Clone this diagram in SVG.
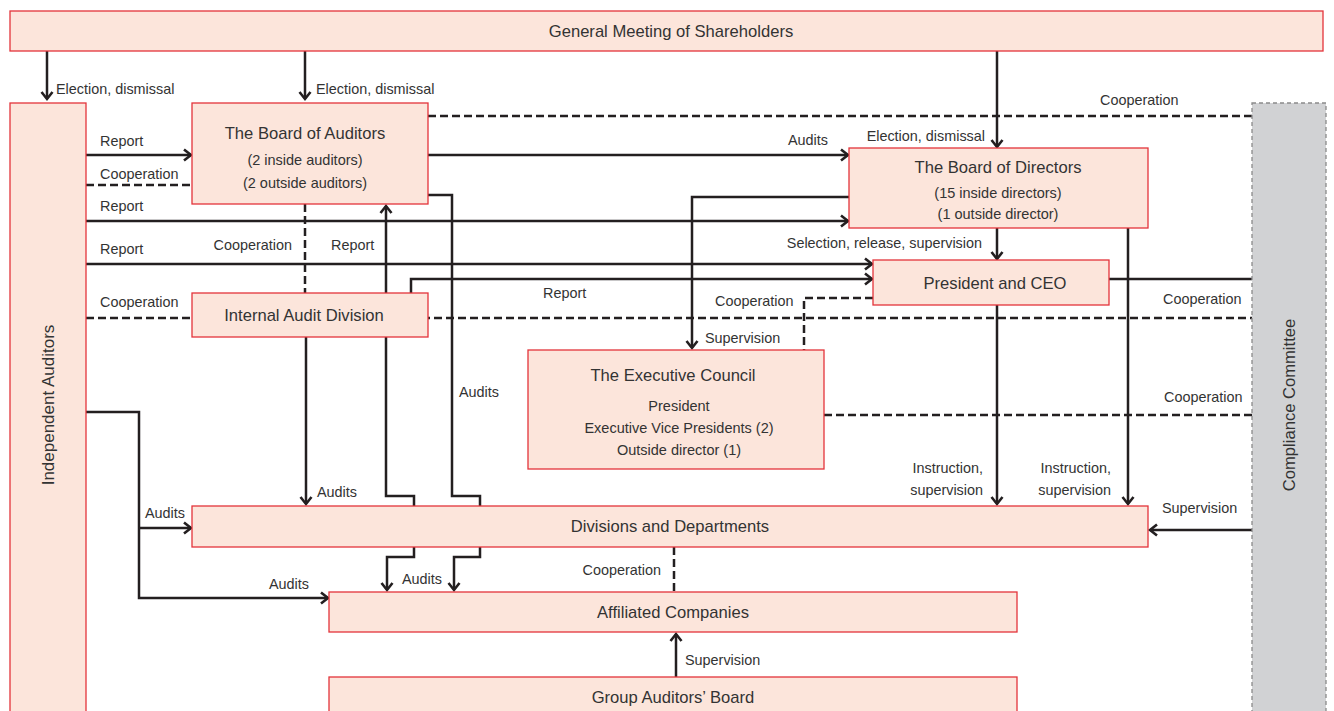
<svg xmlns="http://www.w3.org/2000/svg" width="1334" height="711" viewBox="0 0 1334 711">
<style>
.box{fill:#fce5db;stroke:#e3343b;stroke-width:1.3}
.cc{fill:#d1d2d4;stroke:#8a8a8a;stroke-width:1.3;stroke-dasharray:4 3}
.ln{fill:none;stroke:#231f20;stroke-width:2.5}
.ds{fill:none;stroke:#231f20;stroke-width:2.5;stroke-dasharray:8 4}
text{font-family:'Liberation Sans',Arial,sans-serif;fill:#333}
.ti{font-size:16.6px;text-anchor:middle}
.su{font-size:14.5px;text-anchor:middle}
.lb{font-size:14.4px}
.le{font-size:14.4px;text-anchor:end}
</style>
<defs>
<marker id="a" markerUnits="userSpaceOnUse" markerWidth="14" markerHeight="14" viewBox="0 0 14 14" refX="11" refY="7" orient="auto-start-reverse">
<path d="M4,1.5 L11,7 L4,12.5" fill="none" stroke="#231f20" stroke-width="2.6"/>
</marker>
</defs>

<g id="connectors">
<path class="ln" d="M47,51 V99" marker-end="url(#a)"/>
<path class="ln" d="M305,51 V99" marker-end="url(#a)"/>
<path class="ln" d="M997,51 V147" marker-end="url(#a)"/>
<path class="ln" d="M86,155 H191" marker-end="url(#a)"/>
<path class="ds" d="M86,185 H192"/>
<path class="ln" d="M86,221 H848" marker-end="url(#a)"/>
<path class="ln" d="M86,264 H872" marker-end="url(#a)"/>
<path class="ds" d="M86,318 H1252"/>
<path class="ln" d="M86,412 H139 V598 H328" marker-end="url(#a)"/>
<path class="ln" d="M139,528 H191" marker-end="url(#a)"/>
<path class="ds" d="M428,116 H1252"/>
<path class="ln" d="M428,155 H848" marker-end="url(#a)"/>
<path class="ln" d="M428,195 H452 V496 H480 V557 H454 V590" marker-end="url(#a)"/>
<path class="ln" d="M386,206 V496 H414 V557 H387 V590" marker-start="url(#a)" marker-end="url(#a)"/>
<path class="ds" d="M305,204 V293"/>
<path class="ln" d="M411,293 V279 H872" marker-end="url(#a)"/>
<path class="ln" d="M306,337 V504" marker-end="url(#a)"/>
<path class="ln" d="M849,197 H692 V348" marker-end="url(#a)"/>
<path class="ln" d="M997,228 V259" marker-end="url(#a)"/>
<path class="ln" d="M1128,228 V504" marker-end="url(#a)"/>
<path class="ln" d="M1109,279 H1252"/>
<path class="ln" d="M997,305 V504" marker-end="url(#a)"/>
<path class="ds" d="M873,298 H804 V350"/>
<path class="ds" d="M824,415 H1252"/>
<path class="ln" d="M1252,530 H1150" marker-end="url(#a)"/>
<path class="ds" d="M674,547 V592"/>
<path class="ln" d="M676,677 V634" marker-end="url(#a)"/>
</g>

<g id="labels">
<text class="lb" x="56" y="94">Election, dismissal</text>
<text class="lb" x="316" y="94">Election, dismissal</text>
<text class="le" x="985" y="141">Election, dismissal</text>
<text class="lb" x="1100" y="105">Cooperation</text>
<text class="le" x="828" y="145">Audits</text>
<text class="lb" x="100" y="146">Report</text>
<text class="lb" x="100" y="179">Cooperation</text>
<text class="lb" x="100" y="211">Report</text>
<text class="le" x="982" y="248">Selection, release, supervision</text>
<text class="lb" x="100" y="254">Report</text>
<text class="le" x="292" y="250">Cooperation</text>
<text class="lb" x="331" y="250">Report</text>
<text class="lb" x="543" y="298">Report</text>
<text class="lb" x="100" y="307">Cooperation</text>
<text class="lb" x="715" y="306">Cooperation</text>
<text class="lb" x="1163" y="304">Cooperation</text>
<text class="lb" x="705" y="343">Supervision</text>
<text class="lb" x="459" y="397">Audits</text>
<text class="lb" x="1164" y="402">Cooperation</text>
<text class="le" x="983" y="473">Instruction,</text>
<text class="le" x="983" y="495">supervision</text>
<text class="le" x="1111" y="473">Instruction,</text>
<text class="le" x="1111" y="495">supervision</text>
<text class="lb" x="317" y="497">Audits</text>
<text class="lb" x="1162" y="513">Supervision</text>
<text class="lb" x="145" y="518">Audits</text>
<text class="le" x="661" y="575">Cooperation</text>
<text class="lb" x="269" y="589">Audits</text>
<text class="lb" x="402" y="584">Audits</text>
<text class="lb" x="685" y="665">Supervision</text>
</g>

<g id="gm"><rect class="box" x="10" y="11" width="1313" height="40"/><text class="ti" x="671" y="37">General Meeting of Shareholders</text></g>
<g id="ia"><rect class="box" x="10" y="103" width="76" height="620"/><text class="ti" style="font-size:17px" transform="translate(54,405) rotate(-90)">Independent Auditors</text></g>
<g id="cc"><rect class="cc" x="1252" y="103" width="74" height="620"/><text class="ti" transform="translate(1295,405) rotate(-90)">Compliance Committee</text></g>
<g id="boa"><rect class="box" x="192" y="103" width="236" height="101"/>
<text class="ti" x="305" y="139">The Board of Auditors</text>
<text class="su" x="305" y="165">(2 inside auditors)</text>
<text class="su" x="305" y="188">(2 outside auditors)</text></g>
<g id="bod"><rect class="box" x="849" y="148" width="299" height="80"/>
<text class="ti" x="998" y="173">The Board of Directors</text>
<text class="su" x="998" y="198">(15 inside directors)</text>
<text class="su" x="998" y="219">(1 outside director)</text></g>
<g id="pres"><rect class="box" x="873" y="260" width="236" height="45"/><text class="ti" x="995" y="289">President and CEO</text></g>
<g id="iad"><rect class="box" x="192" y="293" width="236" height="44"/><text class="ti" x="304" y="321">Internal Audit Division</text></g>
<g id="ec"><rect class="box" x="528" y="350" width="296" height="119"/>
<text class="ti" x="673" y="381">The Executive Council</text>
<text class="su" x="679" y="411">President</text>
<text class="su" x="679" y="433">Executive Vice Presidents (2)</text>
<text class="su" x="679" y="455">Outside director (1)</text></g>
<g id="div"><rect class="box" x="192" y="506" width="956" height="41"/><text class="ti" x="670" y="532">Divisions and Departments</text></g>
<g id="aff"><rect class="box" x="329" y="592" width="688" height="40"/><text class="ti" x="673" y="618">Affiliated Companies</text></g>
<g id="gab"><rect class="box" x="329" y="677" width="688" height="50"/><text class="ti" x="673" y="703">Group Auditors’ Board</text></g>
</svg>
